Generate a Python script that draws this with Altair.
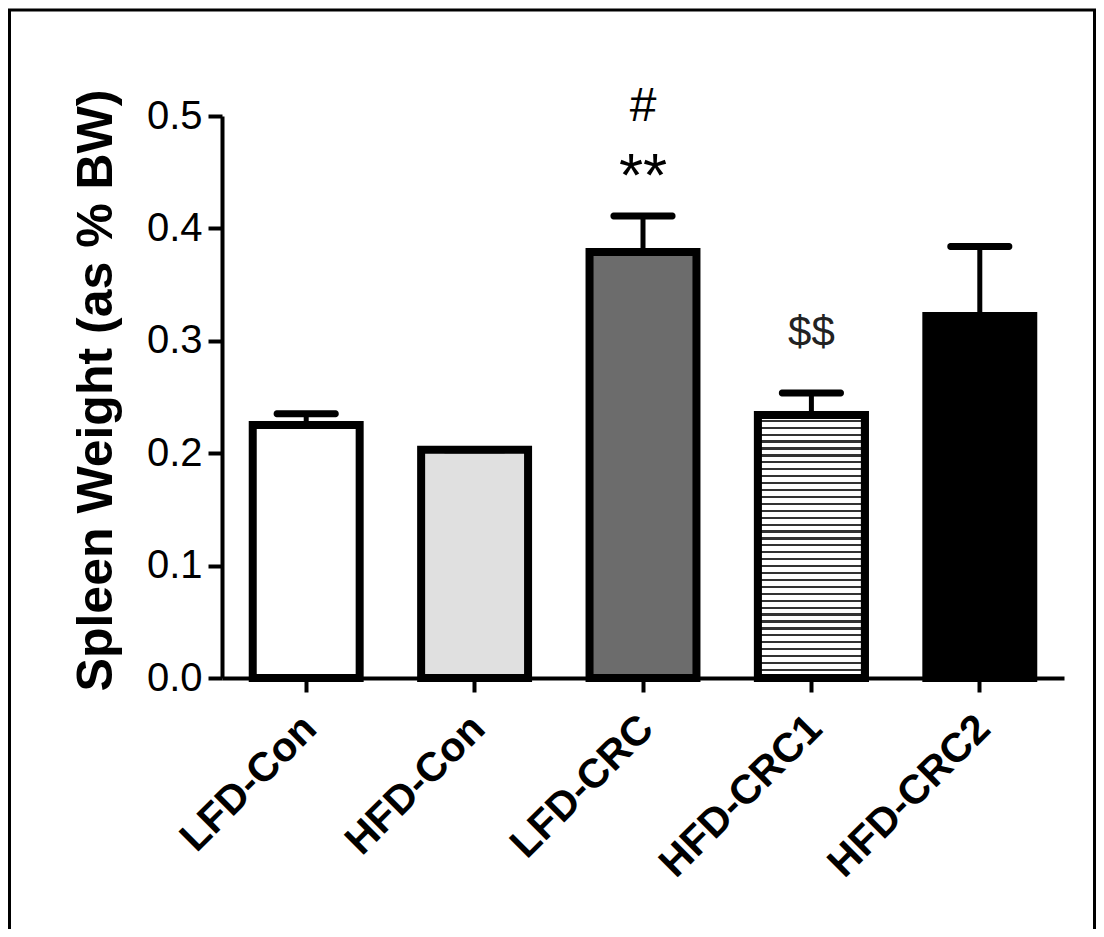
import altair as alt
import pandas as pd

groups = ["LFD-Con", "HFD-Con", "LFD-CRC", "HFD-CRC1", "HFD-CRC2"]
means = [0.225, 0.203, 0.379, 0.234, 0.322]
err_tops = [0.235, 0.203, 0.411, 0.2536, 0.384]
fills = ["#ffffff", "#e0e0e0", "#6c6c6c", "#ffffff", "#000000"]

df = pd.DataFrame({"group": groups, "mean": means, "top": err_tops, "fill": fills})

FONT = "Liberation Sans"

# horizontal stripe style for HFD-CRC1
n_stripes = 38
stops = []
for i in range(n_stripes):
    a = i / n_stripes
    m = (i + 0.68) / n_stripes
    b = (i + 1) / n_stripes
    stops += [
        alt.GradientStop(color="#ffffff", offset=a),
        alt.GradientStop(color="#ffffff", offset=m),
        alt.GradientStop(color="#333333", offset=m),
        alt.GradientStop(color="#333333", offset=b),
    ]
stripe = alt.Gradient(gradient="linear", stops=stops, x1=0, x2=0, y1=0, y2=1)

x = alt.X("group:N", sort=groups, title=None,
          scale=alt.Scale(paddingInner=0.365, paddingOuter=0.1825),
          axis=alt.Axis(labelAngle=-45, labelFontSize=41, labelFont=FONT,
                        labelFontWeight="bold", labelOffset=-10,
                        labelPadding=16, labelLimit=500, tickSize=14, tickWidth=4,
                        domainWidth=4, domainColor="black", tickColor="black",
                        labelColor="black"))
y = alt.Y("mean:Q", title="Spleen Weight (as % BW)",
          scale=alt.Scale(domain=[0, 0.5], nice=False),
          axis=alt.Axis(values=[0, 0.1, 0.2, 0.3, 0.4, 0.5], format=".1f",
                        labelFontSize=40, labelFont=FONT, labelPadding=6,
                        tickSize=14, tickWidth=4, domainWidth=4,
                        domainColor="black", tickColor="black", labelColor="black",
                        titleFontSize=50, titleFont=FONT, titleFontWeight="bold",
                        titleColor="black", titlePadding=25, titleY=274, grid=False))

base = alt.Chart(df)

bars = base.mark_bar(stroke="black", strokeWidth=8).encode(
    x=x, y=y, fill=alt.Fill("fill:N", scale=None)
)
striped = base.transform_filter(alt.datum.group == "HFD-CRC1").mark_bar(
    stroke="black", strokeWidth=8, fill=stripe
).encode(x=x, y=y)

err = base.mark_rule(color="black", strokeWidth=5).encode(
    x=x, y="mean:Q", y2="top:Q"
)
cap = base.mark_tick(color="black", opacity=1, size=65, thickness=7, cornerRadius=3).encode(
    x=x, y="top:Q"
)

t_star = base.transform_filter(alt.datum.group == "LFD-CRC").mark_text(
    text="**", font=FONT, fontSize=62, baseline="alphabetic", dy=-20, color="black"
).encode(x=x, y="top:Q")
t_hash = base.transform_filter(alt.datum.group == "LFD-CRC").mark_text(
    text="#", font=FONT, fontSize=48, baseline="alphabetic", dy=-95, color="black"
).encode(x=x, y="top:Q")
t_dollar = base.transform_filter(alt.datum.group == "HFD-CRC1").mark_text(
    text="$$", font=FONT, fontSize=42, baseline="alphabetic", dy=-47, color="#222222"
).encode(x=x, y="top:Q")

frame = alt.Chart(alt.Data(values=[{}])).mark_rect(
    fill=None, stroke="black", strokeWidth=3
).encode(x=alt.value(-212.5), x2=alt.value(872.5), y=alt.value(-106), y2=alt.value(900))

chart = alt.layer(frame, bars, striped, err, cap, t_star, t_hash, t_dollar).properties(
    width=842, height=562,
    background="white",
    autosize=alt.AutoSizeParams(type="none"),
    padding={"left": 214, "top": 108, "right": 32, "bottom": 251},
).configure_view(stroke="transparent", strokeWidth=0)

chart.save("out.html", embed_options={"renderer": "svg", "actions": False})
